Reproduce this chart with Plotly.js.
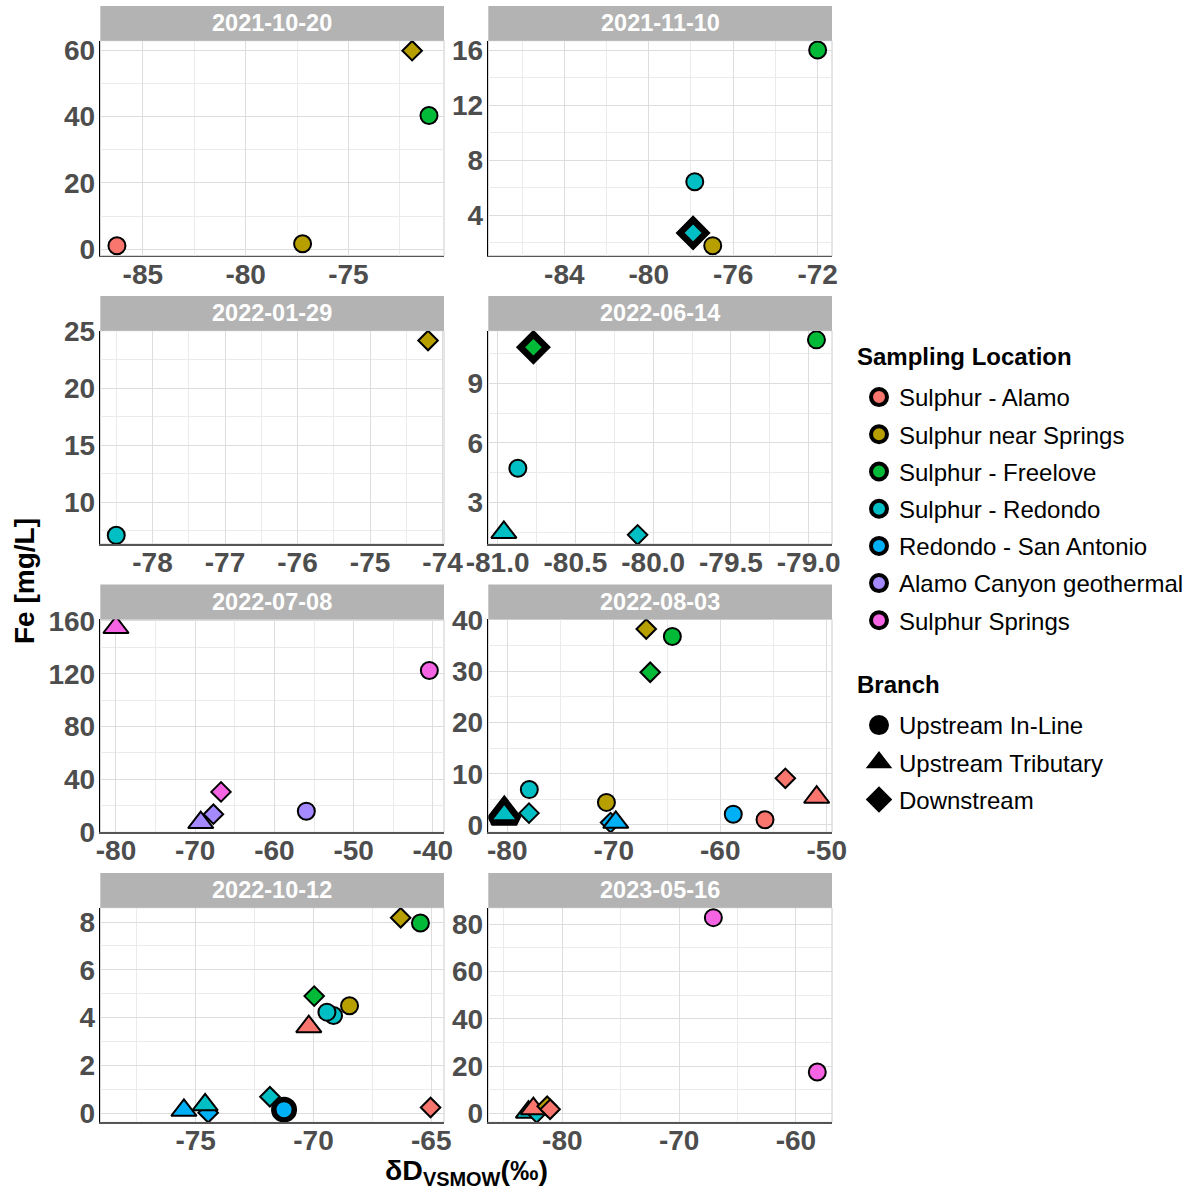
<!DOCTYPE html>
<html><head><meta charset="utf-8">
<script src="https://cdn.plot.ly/plotly-3.0.1.min.js"></script>
<style>body{margin:0;background:#fff}</style>
</head><body><div id="chart" style="width:1201px;height:1192px"></div>
<script>
// ---------- data ----------
const dates = ['2021-10-20','2021-11-10','2022-01-29','2022-06-14','2022-07-08','2022-08-03','2022-10-12','2023-05-16'];
const locations = ['Sulphur - Alamo','Sulphur near Springs','Sulphur - Freelove','Sulphur - Redondo','Redondo - San Antonio','Alamo Canyon geothermal','Sulphur Springs'];
const locationColors = ['#F8766D','#B79F00','#00BA38','#00BFC4','#00B0F6','#A58AFF','#F564E3'];
const branches = ['Upstream In-Line','Upstream Tributary','Downstream'];
const branchSymbols = ['circle','triangle-up','diamond'];

// one entry per sample (draw order)
const sampleDate = [
 '2021-10-20','2021-10-20','2021-10-20','2021-10-20',
 '2021-11-10','2021-11-10','2021-11-10','2021-11-10','2021-11-10',
 '2022-01-29','2022-01-29',
 '2022-06-14','2022-06-14','2022-06-14','2022-06-14','2022-06-14','2022-06-14',
 '2022-07-08','2022-07-08','2022-07-08','2022-07-08','2022-07-08','2022-07-08',
 '2022-08-03','2022-08-03','2022-08-03','2022-08-03','2022-08-03','2022-08-03','2022-08-03','2022-08-03','2022-08-03','2022-08-03','2022-08-03','2022-08-03','2022-08-03','2022-08-03',
 '2022-10-12','2022-10-12','2022-10-12','2022-10-12','2022-10-12','2022-10-12','2022-10-12','2022-10-12','2022-10-12','2022-10-12','2022-10-12','2022-10-12','2022-10-12','2022-10-12',
 '2023-05-16','2023-05-16','2023-05-16','2023-05-16','2023-05-16','2023-05-16','2023-05-16'
];
const sampleLocation = [
 'Sulphur - Alamo','Sulphur near Springs','Sulphur near Springs','Sulphur - Freelove',
 'Sulphur - Redondo','Sulphur - Redondo','Sulphur - Redondo','Sulphur near Springs','Sulphur - Freelove',
 'Sulphur - Redondo','Sulphur near Springs',
 'Sulphur - Redondo','Sulphur - Redondo','Sulphur - Redondo','Sulphur - Freelove','Sulphur - Freelove','Sulphur - Freelove',
 'Sulphur Springs','Alamo Canyon geothermal','Alamo Canyon geothermal','Sulphur Springs','Alamo Canyon geothermal','Sulphur Springs',
 'Sulphur - Redondo','Sulphur - Redondo','Sulphur - Redondo','Sulphur - Redondo','Redondo - San Antonio','Sulphur near Springs','Redondo - San Antonio','Sulphur near Springs','Sulphur - Freelove','Sulphur - Freelove','Redondo - San Antonio','Sulphur - Alamo','Sulphur - Alamo','Sulphur - Alamo',
 'Redondo - San Antonio','Redondo - San Antonio','Sulphur - Redondo','Sulphur - Redondo','Redondo - San Antonio','Redondo - San Antonio','Sulphur - Alamo','Sulphur - Freelove','Sulphur - Redondo','Sulphur - Redondo','Sulphur near Springs','Sulphur near Springs','Sulphur - Freelove','Sulphur - Alamo',
 'Sulphur - Redondo','Sulphur - Redondo','Sulphur - Alamo','Sulphur near Springs','Sulphur - Alamo','Sulphur Springs','Sulphur Springs'
];
const sampleBranch = [
 'Upstream In-Line','Upstream In-Line','Downstream','Upstream In-Line',
 'Upstream In-Line','Downstream','Downstream','Upstream In-Line','Upstream In-Line',
 'Upstream In-Line','Downstream',
 'Upstream Tributary','Downstream','Upstream In-Line','Downstream','Downstream','Upstream In-Line',
 'Upstream Tributary','Upstream Tributary','Downstream','Downstream','Upstream In-Line','Upstream In-Line',
 'Upstream Tributary','Upstream Tributary','Downstream','Upstream In-Line','Downstream','Upstream In-Line','Upstream Tributary','Downstream','Downstream','Upstream In-Line','Upstream In-Line','Upstream In-Line','Downstream','Upstream Tributary',
 'Downstream','Upstream Tributary','Upstream Tributary','Downstream','Upstream In-Line','Upstream In-Line','Upstream Tributary','Downstream','Upstream In-Line','Upstream In-Line','Upstream In-Line','Downstream','Upstream In-Line','Downstream',
 'Upstream Tributary','Downstream','Upstream Tributary','Downstream','Downstream','Upstream In-Line','Upstream In-Line'
];
const deltaD = [
 -86.26,-77.23,-71.9,-71.08,
 -77.82,-77.9,-77.9,-76.97,-72.0,
 -78.5,-74.2,
 -80.96,-80.10,-80.87,-80.77,-80.77,-78.95,
 -80.0,-69.3,-67.7,-66.74,-55.97,-40.44,
 -80.28,-80.28,-77.96,-77.93,-70.3,-70.69,-69.81,-66.95,-66.58,-64.5,-58.78,-55.8,-53.89,-50.95,
 -74.47,-75.5,-74.6,-71.85,-71.25,-71.25,-70.2,-69.97,-69.15,-69.43,-68.47,-66.3,-65.46,-65.03,
 -82.9,-82.2,-82.48,-81.3,-81.05,-67.07,-58.17
];
const fe = [
 1.1,1.7,59.8,40.3,
 6.42,2.7,2.7,1.77,16.0,
 7.12,24.19,
 1.5,1.38,4.73,10.81,10.81,11.18,
 155,7.3,13.6,30.5,15.9,122.4,
 2.0,2.0,2.3,6.9,0.45,4.4,0.5,38.25,29.8,36.8,2.1,1.0,9.1,5.4,
 0.02,0.12,0.35,0.69,0.15,0.15,3.62,4.9,4.09,4.23,4.5,8.18,7.96,0.24,
 0.5,0.2,1.95,3.0,1.7,82.8,17.5
];

// ---------- layout constants (pixels) ----------
const W = 1201, H = 1192;
const colPx = [[100.3,444],[488.3,832]];
const rowPx = [[40.7,255.7],[330.7,544],[619.3,832.3],[907.7,1122.3]];
const stripH = 34.7;
const panelXRange = [[-87.07,-70.35],[-87.6,-71.32],[-78.72,-73.98],[-81.06,-78.85],[-81.98,-38.59],[-81.78,-49.51],[-79.05,-64.46],[-86.34,-56.91]];
const panelYRange = [[-1.9,62.8],[1.04,16.68],[6.36,25.05],[0.92,11.64],[-0.1,161.2],[-1.44,40.14],[-0.38,8.6],[-3.8,87.0]];
const panelXStep = [5,4,1,0.5,10,10,5,10];
const panelYStep = [20,4,5,3,40,10,2,20];
const sizeByBranch = {'Upstream In-Line':17,'Upstream Tributary':22,'Downstream':15};
const haloWidth = {'Upstream In-Line':9,'Upstream Tributary':11,'Downstream':11};

const tickFont = {family:'Liberation Sans, Arial, sans-serif', size:28, color:'#4D4D4D', weight:700};

function ticks(range, step, decimals){
  const vals = [], txt = [];
  let k = Math.ceil(range[0]/step - 1e-9);
  while (k*step <= range[1] + 1e-9){
    const v = +(k*step).toFixed(6);
    vals.push(v);
    txt.push(decimals ? v.toFixed(decimals) : String(v));
    k++;
  }
  return {vals, txt};
}

const layout = {
  width:W, height:H, margin:{l:0,r:0,t:0,b:0},
  paper_bgcolor:'#ffffff', plot_bgcolor:'rgba(0,0,0,0)',
  font:{family:'Liberation Sans, Arial, sans-serif', color:'#000'},
  showlegend:true, shapes:[], annotations:[],
  legend:{x:853/W, y:1-375/H, xanchor:'left', yanchor:'top', bgcolor:'rgba(0,0,0,0)',
    font:{size:24,color:'#000'}, tracegroupgap:3, itemsizing:'trace', indentation:6},
  legend2:{x:853/W, y:1-703/H, xanchor:'left', yanchor:'top', bgcolor:'rgba(0,0,0,0)',
    font:{size:24,color:'#000'}, tracegroupgap:3, itemsizing:'trace', indentation:6}
};

const traces = [];

dates.forEach((d,i)=>{
  const r = Math.floor(i/2), c = i%2;
  const n = i===0 ? '' : String(i+1);
  const xd = [colPx[c][0]/W, colPx[c][1]/W];
  const yd = [1-rowPx[r][1]/H, 1-rowPx[r][0]/H];
  const xt = ticks(panelXRange[i], panelXStep[i], panelXStep[i] < 1 ? 1 : 0);
  const yt = ticks(panelYRange[i], panelYStep[i], 0);
  layout['xaxis'+n] = {
    domain:xd, anchor:'y'+n, range:panelXRange[i],
    tickmode:'array', tickvals:xt.vals, ticktext:xt.txt,
    showgrid:true, gridcolor:'#DDDDDD', gridwidth:1,
    minor:{tickmode:'linear', tick0:0, dtick:panelXStep[i]/2, showgrid:true, gridcolor:'#EBEBEB', gridwidth:1, ticks:''},
    zeroline:false, showline:true, linecolor:'#555555', linewidth:1.5,
    ticks:'', ticklabelstandoff:-7, tickfont:tickFont, fixedrange:true
  };
  layout['yaxis'+n] = {
    domain:yd, anchor:'x'+n, range:panelYRange[i],
    tickmode:'array', tickvals:yt.vals, ticktext:yt.txt,
    showgrid:true, gridcolor:'#DDDDDD', gridwidth:1,
    minor:{tickmode:'linear', tick0:0, dtick:panelYStep[i]/2, showgrid:true, gridcolor:'#EBEBEB', gridwidth:1, ticks:''},
    zeroline:false, showline:true, linecolor:'#000000', linewidth:1.5,
    ticks:'', ticklabelstandoff:-2, tickfont:tickFont, fixedrange:true
  };
  // panel border
  layout.shapes.push({type:'rect', xref:'paper', yref:'paper', x0:xd[0], x1:xd[1], y0:yd[0], y1:yd[1],
    line:{color:'#CCCCCC', width:1}, fillcolor:'rgba(0,0,0,0)', layer:'below'});
  // strip
  const sTop = 1-(rowPx[r][0]-stripH)/H;
  layout.shapes.push({type:'rect', xref:'paper', yref:'paper', x0:xd[0], x1:xd[1], y0:yd[1], y1:sTop,
    line:{width:0}, fillcolor:'#B3B3B3', layer:'above'});
  layout.annotations.push({xref:'paper', yref:'paper', x:(xd[0]+xd[1])/2, y:(yd[1]+sTop)/2,
    xanchor:'center', yanchor:'middle', showarrow:false, text:'<b>'+d+'</b>',
    font:{size:23.5, color:'#FFFFFF'}});

  // points of this panel
  const idx = [];
  sampleDate.forEach((sd,j)=>{ if (sd===d) idx.push(j); });
  const key = j => sampleLocation[j]+'|'+sampleBranch[j]+'|'+deltaD[j]+'|'+fe[j];
  const counts = {};
  idx.forEach(j=>{ counts[key(j)] = (counts[key(j)]||0)+1; });
  const rep = idx.filter((j,k)=> counts[key(j)]>1 && idx.findIndex(q=>key(q)===key(j))===k);
  if (rep.length){
    traces.push({type:'scatter', mode:'markers', xaxis:'x'+n, yaxis:'y'+n, showlegend:false, hoverinfo:'skip',
      x:rep.map(j=>deltaD[j]), y:rep.map(j=>fe[j]),
      marker:{symbol:rep.map(j=>branchSymbols[branches.indexOf(sampleBranch[j])]),
        size:rep.map(j=>sizeByBranch[sampleBranch[j]]), color:'#000', opacity:1,
        line:{color:'#000', width:rep.map(j=>haloWidth[sampleBranch[j]])}}});
  }
  traces.push({type:'scatter', mode:'markers', xaxis:'x'+n, yaxis:'y'+n, showlegend:false,
    x:idx.map(j=>deltaD[j]), y:idx.map(j=>fe[j]),
    text:idx.map(j=>sampleLocation[j]+' ('+sampleBranch[j]+')'),
    marker:{symbol:idx.map(j=>branchSymbols[branches.indexOf(sampleBranch[j])]),
      size:idx.map(j=>sizeByBranch[sampleBranch[j]]),
      color:idx.map(j=>locationColors[locations.indexOf(sampleLocation[j])]),
      opacity:1, line:{color:'#000', width:2}}});
});

// legend entries
locations.forEach((loc,k)=>{
  traces.push({type:'scatter', mode:'markers', x:[null], y:[null], xaxis:'x', yaxis:'y',
    name:loc, legend:'legend', legendgroup:'loc'+k, showlegend:true,
    marker:{symbol:'circle', size:16, color:locationColors[k], opacity:1, line:{color:'#000', width:4}}});
});
branches.forEach((b,k)=>{
  traces.push({type:'scatter', mode:'markers', x:[null], y:[null], xaxis:'x', yaxis:'y',
    name:b, legend:'legend2', legendgroup:'br'+k, showlegend:true,
    marker:{symbol:branchSymbols[k], size:16, color:'#000', opacity:1, line:{color:'#000', width:4}}});
});

// legend titles
layout.annotations.push({xref:'paper', yref:'paper', x:855/W, y:1-357/H, xanchor:'left', yanchor:'middle',
  showarrow:false, text:'<b>Sampling Location</b>', font:{size:24, color:'#000'}});
layout.annotations.push({xref:'paper', yref:'paper', x:855/W, y:1-684/H, xanchor:'left', yanchor:'middle',
  showarrow:false, text:'<b>Branch</b>', font:{size:24, color:'#000'}});

// axis titles
layout.annotations.push({xref:'paper', yref:'paper', x:25/W, y:1-581/H, xanchor:'center', yanchor:'middle',
  textangle:-90, showarrow:false, text:'<b>Fe [mg/L]</b>', font:{size:28, color:'#000'}});
layout.annotations.push({xref:'paper', yref:'paper', x:467/W, y:1-1172/H, xanchor:'center', yanchor:'middle',
  showarrow:false, text:'<b>δD<sub>VSMOW</sub>(‰)</b>', font:{size:28.5, color:'#000'}});

Plotly.newPlot('chart', traces, layout, {displayModeBar:false, staticPlot:true});
</script>
</body></html>
